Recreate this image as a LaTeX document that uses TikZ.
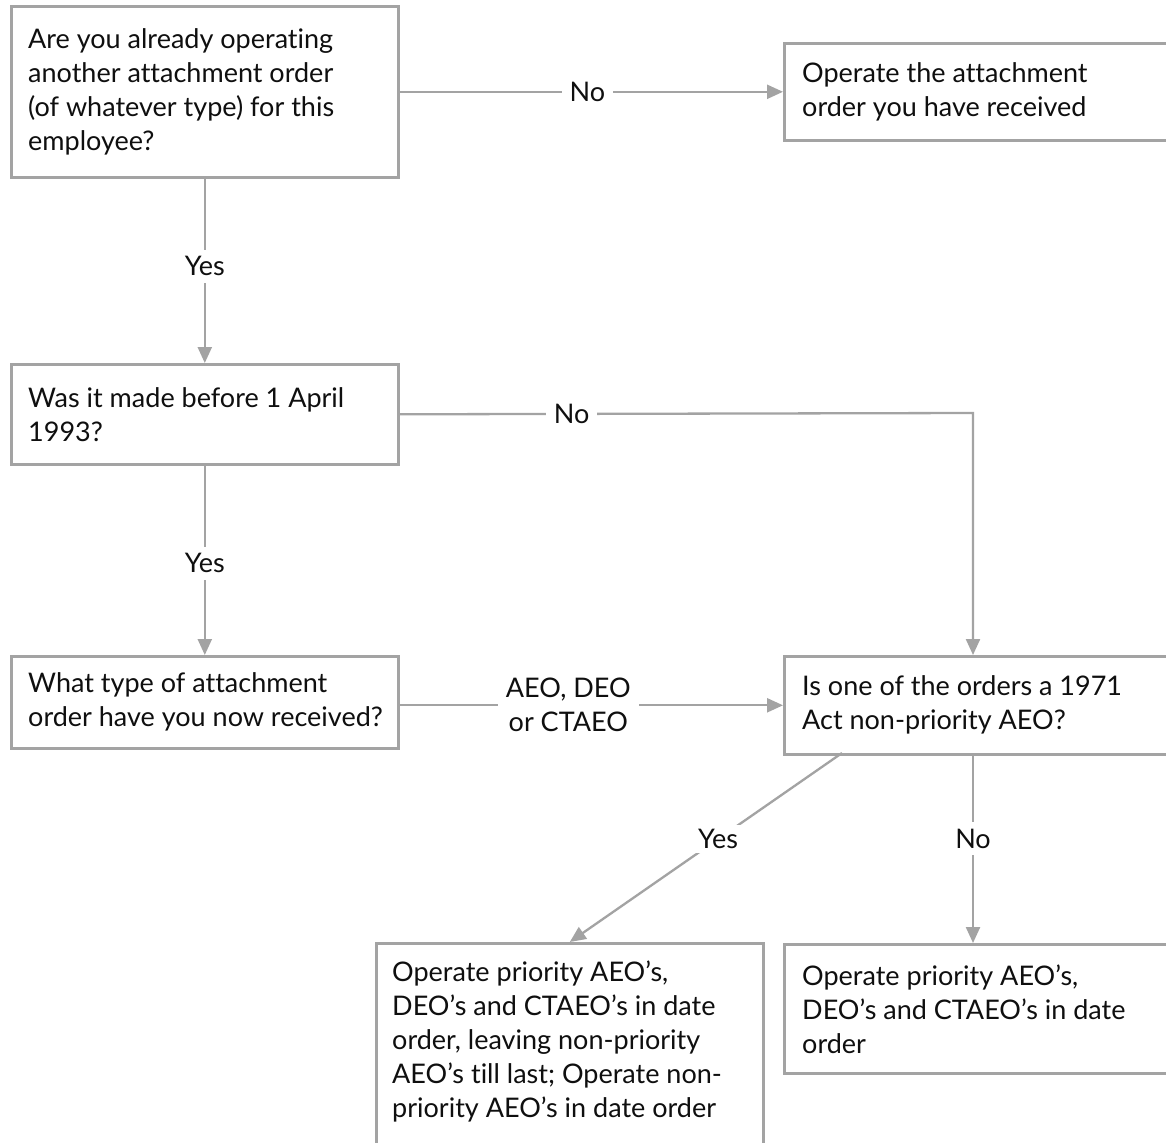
\documentclass[tikz,border=0pt]{standalone}
\usepackage{fontspec}
\setmainfont{Lato}[Ligatures={NoCommon}]
\usetikzlibrary{arrows.meta}
\definecolor{lg}{RGB}{163,163,163}
\definecolor{ink}{RGB}{15,15,15}
\begin{document}
\begin{tikzpicture}[x=1pt,y=-1pt,
  box/.style={draw=lg,line width=2.6pt,inner sep=0pt,anchor=north west},
  txt/.style={align=left,inner sep=0pt,anchor=west,text=ink,font=\fontsize{27}{34}\selectfont},
  conn/.style={draw=lg,line width=2.3pt,-{Triangle[length=16pt,width=14pt]}},
  lab/.style={fill=white,inner xsep=8pt,inner ysep=7pt,align=center,text=ink,font=\fontsize{27}{34}\selectfont}]
\useasboundingbox (0,0) rectangle (1166,1142);
\clip (0,0) rectangle (1166,1142);
\fill[white] (0,0) rectangle (1166,1142);
% boxes
\node[box,minimum width=387pt,minimum height=171pt] (B1) at (10,5) {};
\node[box,minimum width=420pt,minimum height=97pt] (B2) at (783,42) {};
\node[box,minimum width=387pt,minimum height=100pt] (B3) at (10,363) {};
\node[box,minimum width=387pt,minimum height=92pt] (B4) at (10,655) {};
\node[box,minimum width=420pt,minimum height=98pt] (B5) at (783,655) {};
\node[box,minimum width=387pt,minimum height=210pt] (B6) at (375,942) {};
\node[box,minimum width=420pt,minimum height=129pt] (B7) at (783,943) {};
% texts
\node[txt] (T1) at ([xshift=18pt]B1.west) {Are you already operating\\another attachment order\\(of whatever type) for this\\employee?};
\node[txt] (T2) at ([xshift=19pt]B2.west) {Operate the attachment\\order you have received};
\node[txt] (T3) at ([xshift=18pt]B3.west) {Was it made before 1 April\\1993?};
\node[txt] (T4) at ([xshift=18pt]B4.west) {What type of attachment\\order have you now received?};
\node[txt] (T5) at ([xshift=19pt]B5.west) {Is one of the orders a 1971\\Act non-priority AEO?};
\node[txt,anchor=north west] (T6) at (392,961) {Operate priority AEO’s,\\DEO’s and CTAEO’s in date\\order, leaving non-priority\\AEO’s till last; Operate non-\\priority AEO’s in date order};
\node[txt] (T7) at ([xshift=19pt]B7.west) {Operate priority AEO’s,\\DEO’s and CTAEO’s in date\\order};
% helper coordinates
\coordinate (B2in) at (B2.west |- B1.east);
\coordinate (c1) at (973,413);
\coordinate (B5top) at (973,655);
\coordinate (B5bot) at (973,753);
\coordinate (B5diag) at (842,753);
\coordinate (B7top) at (973,943);
% connectors
\draw[conn] (B1.east) -- node[lab,pos=0.49] (L1) {No} (B2in);
\draw[conn] (B1.south) -- node[lab,pos=0.476] (L2) {Yes} (B3.north);
\draw[conn] (B3.east) -- node[lab,pos=0.30] (L3) {No} (c1) -- (B5top);
\draw[conn] (B3.south) -- node[lab,pos=0.516] (L4) {Yes} (B4.north);
\draw[conn] (B4.east |- B5.west) -- node[lab,pos=0.44] (L5) {AEO, DEO\\or CTAEO} (B5.west);
\draw[conn] (B5diag) -- node[lab,pos=0.455,inner xsep=4pt,inner ysep=4pt] (L6) {Yes} (B6.north);
\draw[conn] (B5bot) -- node[lab,pos=0.45] (L7) {No} (B7top);
\end{tikzpicture}
\end{document}
